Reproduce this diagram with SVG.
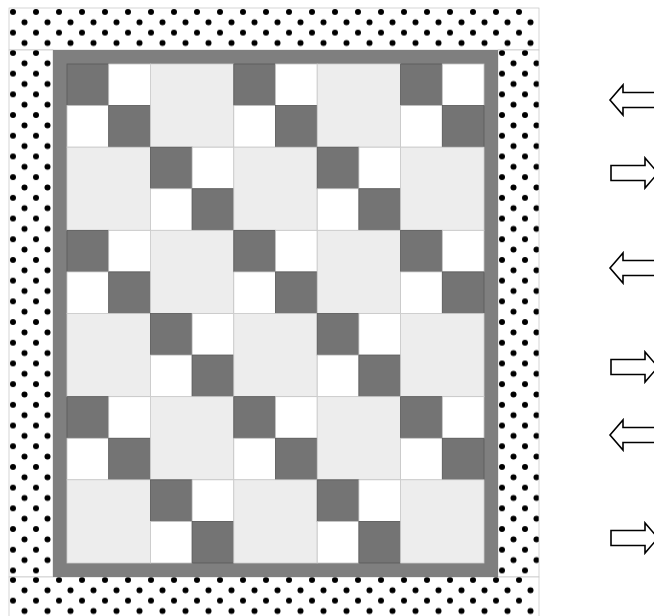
<svg xmlns="http://www.w3.org/2000/svg" xmlns:xlink="http://www.w3.org/1999/xlink" width="654" height="616" viewBox="0 0 654 616">
<style>
.band{stroke:#c4c4c4;stroke-width:0.7}
.dk{fill:#747474;stroke:#5a5a5a;stroke-width:0.8}
.wh{fill:#ffffff;stroke:#c6c6c6;stroke-width:0.8}
.lt{fill:#ededed;stroke:#cdcdcd;stroke-width:0.8}
.dot{fill:#000}
.arr{fill:#ffffff;stroke:#000;stroke-width:1.6;stroke-linejoin:miter}
</style>
<defs>
<pattern id="dotsT" patternUnits="userSpaceOnUse" x="9" y="8" width="23" height="20.7">
<rect width="23" height="20.7" fill="#fff"/>
<circle class="dot" cx="4" cy="4" r="3"/>
<circle class="dot" cx="15.5" cy="14.35" r="3"/>
</pattern>
<pattern id="dotsL" patternUnits="userSpaceOnUse" x="9" y="49" width="23" height="20.7">
<rect width="23" height="20.7" fill="#fff"/>
<circle class="dot" cx="4" cy="4" r="3"/>
<circle class="dot" cx="15.5" cy="14.35" r="3"/>
</pattern>
<pattern id="dotsR" patternUnits="userSpaceOnUse" x="498" y="49" width="23" height="20.7">
<rect width="23" height="20.7" fill="#fff"/>
<circle class="dot" cx="4" cy="4" r="3"/>
<circle class="dot" cx="15.5" cy="14.35" r="3"/>
</pattern>
<pattern id="dotsB" patternUnits="userSpaceOnUse" x="9" y="576" width="23" height="20.7">
<rect width="23" height="20.7" fill="#fff"/>
<circle class="dot" cx="4" cy="4" r="3"/>
<circle class="dot" cx="15.5" cy="14.35" r="3"/>
</pattern>
<g id="fp">
<rect class="dk" x="0" y="0" width="41.7" height="41.58"/>
<rect class="wh" x="41.7" y="0" width="41.7" height="41.58"/>
<rect class="wh" x="0" y="41.58" width="41.7" height="41.58"/>
<rect class="dk" x="41.7" y="41.58" width="41.7" height="41.58"/>
</g>
<rect id="ls" class="lt" x="0" y="0" width="83.4" height="83.17"/>
</defs>
<rect width="654" height="616" fill="#fff"/>
<g id="outer-border">
<rect class="band" x="9" y="8" width="530" height="42" fill="url(#dotsT)"/>
<rect class="band" x="9" y="50" width="44" height="527" fill="url(#dotsL)"/>
<rect class="band" x="498" y="50" width="41" height="527" fill="url(#dotsR)"/>
<rect class="band" x="9" y="577" width="530" height="45" fill="url(#dotsB)"/>
</g>
<g id="inner-border">
<rect x="53" y="50" width="445" height="527" fill="#7f7f7f"/>
</g>
<g id="quilt">
<g id="b-r0c0"><use xlink:href="#fp" x="67" y="64"/></g>
<g id="b-r0c1"><use xlink:href="#ls" x="150.4" y="64"/></g>
<g id="b-r0c2"><use xlink:href="#fp" x="233.8" y="64"/></g>
<g id="b-r0c3"><use xlink:href="#ls" x="317.2" y="64"/></g>
<g id="b-r0c4"><use xlink:href="#fp" x="400.6" y="64"/></g>
<g id="b-r1c0"><use xlink:href="#ls" x="67" y="147.17"/></g>
<g id="b-r1c1"><use xlink:href="#fp" x="150.4" y="147.17"/></g>
<g id="b-r1c2"><use xlink:href="#ls" x="233.8" y="147.17"/></g>
<g id="b-r1c3"><use xlink:href="#fp" x="317.2" y="147.17"/></g>
<g id="b-r1c4"><use xlink:href="#ls" x="400.6" y="147.17"/></g>
<g id="b-r2c0"><use xlink:href="#fp" x="67" y="230.33"/></g>
<g id="b-r2c1"><use xlink:href="#ls" x="150.4" y="230.33"/></g>
<g id="b-r2c2"><use xlink:href="#fp" x="233.8" y="230.33"/></g>
<g id="b-r2c3"><use xlink:href="#ls" x="317.2" y="230.33"/></g>
<g id="b-r2c4"><use xlink:href="#fp" x="400.6" y="230.33"/></g>
<g id="b-r3c0"><use xlink:href="#ls" x="67" y="313.5"/></g>
<g id="b-r3c1"><use xlink:href="#fp" x="150.4" y="313.5"/></g>
<g id="b-r3c2"><use xlink:href="#ls" x="233.8" y="313.5"/></g>
<g id="b-r3c3"><use xlink:href="#fp" x="317.2" y="313.5"/></g>
<g id="b-r3c4"><use xlink:href="#ls" x="400.6" y="313.5"/></g>
<g id="b-r4c0"><use xlink:href="#fp" x="67" y="396.67"/></g>
<g id="b-r4c1"><use xlink:href="#ls" x="150.4" y="396.67"/></g>
<g id="b-r4c2"><use xlink:href="#fp" x="233.8" y="396.67"/></g>
<g id="b-r4c3"><use xlink:href="#ls" x="317.2" y="396.67"/></g>
<g id="b-r4c4"><use xlink:href="#fp" x="400.6" y="396.67"/></g>
<g id="b-r5c0"><use xlink:href="#ls" x="67" y="479.83"/></g>
<g id="b-r5c1"><use xlink:href="#fp" x="150.4" y="479.83"/></g>
<g id="b-r5c2"><use xlink:href="#ls" x="233.8" y="479.83"/></g>
<g id="b-r5c3"><use xlink:href="#fp" x="317.2" y="479.83"/></g>
<g id="b-r5c4"><use xlink:href="#ls" x="400.6" y="479.83"/></g>
</g>
<g id="arrows">
<path class="arr" d="M610,100 L623,85 L623,92.5 L662,92.5 L662,107.5 L623,107.5 L623,115 Z"/>
<path class="arr" d="M611,165.5 L645,165.5 L645,158 L658,173 L645,188 L645,180.5 L611,180.5 Z"/>
<path class="arr" d="M610,268 L623,253 L623,260.5 L662,260.5 L662,275.5 L623,275.5 L623,283 Z"/>
<path class="arr" d="M611,359.5 L645,359.5 L645,352 L658,367 L645,382 L645,374.5 L611,374.5 Z"/>
<path class="arr" d="M610,435 L623,420 L623,427.5 L662,427.5 L662,442.5 L623,442.5 L623,450 Z"/>
<path class="arr" d="M611,530.5 L645,530.5 L645,523 L658,538 L645,553 L645,545.5 L611,545.5 Z"/>
</g>
</svg>
